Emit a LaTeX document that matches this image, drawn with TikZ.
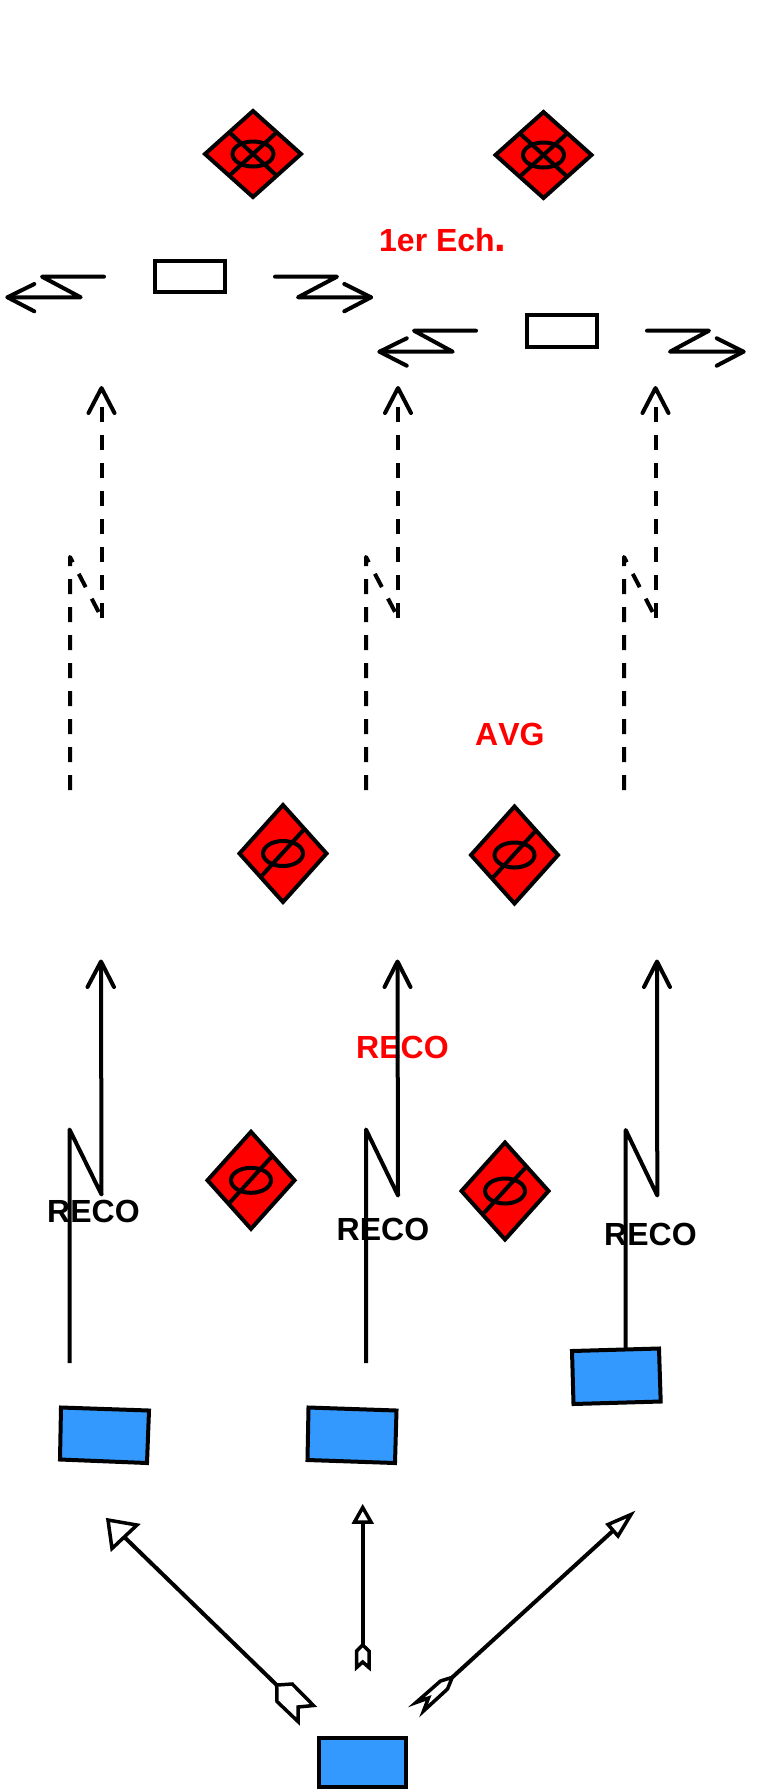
\documentclass[tikz,border=0pt]{standalone}
\usepackage{fontspec}
\setmainfont{Liberation Sans}[Kerning=Off]
\definecolor{blue1}{RGB}{51,153,255}
\tikzset{
 x=1pt,y=-1pt,
 ln/.style={line width=4pt,line cap=round,line join=round,draw=black},
 sln/.style={line width=4pt,line cap=butt,line join=round,draw=black},
 dsh/.style={line width=4pt,line join=round,draw=black,dash pattern=on 15pt off 13pt},
 diam/.style={line width=4pt,draw=black,fill=red,line join=miter},
 bx/.style={line width=4pt,draw=black,fill=blue1,line join=miter},
 wbx/.style={line width=4pt,draw=black,fill=white},
 hollow/.style={line width=3.5pt,draw=black,fill=white,line join=miter,miter limit=10},
 lab/.style={font=\fontsize{32}{36}\selectfont\bfseries,inner sep=0pt,anchor=base west},
}
\newcommand{\slashdiam}[1]{%
 \begin{scope}[shift={(#1)}]
 \draw[diam] (0,-48.5) -- (43.5,0) -- (0,48.5) -- (-43.5,0) -- cycle;
 \draw[sln] (-21,22) -- (21,-24);
 \draw[line width=4pt] (0,0) ellipse (20pt and 12.5pt);
 \end{scope}}
\newcommand{\crossdiam}[1]{%
 \begin{scope}[shift={(#1)}]
 \draw[diam] (0,-43) -- (48,0) -- (0,43) -- (-48,0) -- cycle;
 \draw[sln] (-23,-21) -- (23,21);
 \draw[sln] (-23,21) -- (23,-21);
 \draw[line width=4pt] (0,0) ellipse (20.5pt and 12.5pt);
 \end{scope}}
\begin{document}
\begin{tikzpicture}
\useasboundingbox (0,0) rectangle (759,1789);
\crossdiam{253,154}
\crossdiam{543.5,155}
\draw[wbx] (155,261) rectangle (225,292.3);
\draw[wbx] (527,315.3) rectangle (597,346.5);
\draw[ln] (104,276.7) -- (42,276.7) -- (80.7,297.3) -- (7.5,297.3);
\draw[ln] (34.3,284) -- (7.5,297.3) -- (34.3,311.3);
\draw[ln] (275,276.7) -- (337,276.7) -- (298,297.3) -- (371,297.3);
\draw[ln] (344.3,284) -- (371,297.3) -- (344.3,311.3);
\draw[ln] (476,330.7) -- (414,330.7) -- (452.7,351.7) -- (379.5,351.7);
\draw[ln] (406.7,338.3) -- (379.5,351.7) -- (406.7,365.7);
\draw[ln] (647,330.7) -- (709,330.7) -- (670,351.7) -- (743.5,351.7);
\draw[ln] (716.7,338.3) -- (743.5,351.7) -- (716.7,365.7);
\node[lab,text=red] (t1) at (379,251) {1er Ech{\fontsize{42}{42}\selectfont.}};
\node[lab,text=red] (t2) at (475,745) {AVG};
\node[lab,text=red] (t3) at (356,1058) {RECO};
\node[lab] (t4) at (47,1222) {RECO};
\node[lab] (t5) at (336.5,1240) {RECO};
\node[lab] (t6) at (604,1245) {RECO};
% dashed
\foreach \a/\b in {70/101.5,366/398,624/655.5}{
 \draw[dsh] (\a,790) -- (\a,557) -- (\b,617.5);
 \draw[dsh] (\b,617.5) -- (\b,395);
 \draw[ln] (\b-13,413) -- (\b,388) -- (\b+13,413);
}
\slashdiam{283,853.5}
\slashdiam{514.5,855}
\slashdiam{251,1180.3}
\slashdiam{505,1191}
% solid
\draw[sln] (69.5,1363) -- (69.5,1129.5) -- (101.5,1194.5) -- (101,963);
\draw[ln] (87.5,987) -- (101,961.5) -- (114,987);
\draw[sln] (366,1363) -- (366,1129.5) -- (398,1195.5) -- (397.5,963);
\draw[ln] (384.5,987) -- (397.5,961.5) -- (410.5,987);
\draw[sln] (625.7,1352) -- (625.7,1130) -- (657.3,1195.5) -- (657,963);
\draw[ln] (644,987) -- (657,961.5) -- (670,987);
\draw[bx] (61,1407.5) -- (149,1410.5) -- (147,1463) -- (60,1459.5) -- cycle;
\draw[bx] (308.5,1407.5) -- (396.5,1410.5) -- (395,1463) -- (307.5,1460) -- cycle;
\draw[bx] (572,1351) -- (659,1348.5) -- (660.7,1401.5) -- (573.5,1404) -- cycle;
\draw[bx] (319,1737.5) -- (406,1737.5) -- (406,1787) -- (319,1787) -- cycle;
% bottom arrows
\draw[hollow] (108,1520) -- (137,1525) -- (112,1548.5) -- cycle;
\draw[hollow] (276.7,1685) -- (292.3,1684) -- (313.5,1705.5) -- (298,1707) -- (298,1721.5) -- (277,1701.5) -- cycle;
\draw[sln] (125,1537.7) -- (276.7,1685);
\draw[hollow] (362.7,1507.5) -- (371,1522) -- (354.5,1522) -- cycle;
\draw[hollow] (362.7,1645) -- (369,1651) -- (369,1667.5) -- (362.7,1662) -- (356.5,1667.5) -- (356.5,1651) -- cycle;
\draw[sln] (362.7,1522.3) -- (362.7,1645);
\draw[hollow] (631,1514.5) -- (608,1524.5) -- (618,1536) -- cycle;
\draw[hollow] (452.3,1677.3) -- (440.5,1681) -- (416,1702.5) -- (428.5,1698) -- (423.5,1711) -- (447.5,1689) -- cycle;
\draw[sln] (612.7,1531) -- (452.3,1677.3);
\end{tikzpicture}
\end{document}
